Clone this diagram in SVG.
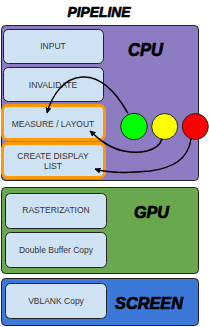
<svg xmlns="http://www.w3.org/2000/svg" width="209" height="327" viewBox="0 0 209 327">
<style>
.panel{stroke:#222;stroke-width:1}
.box{fill:#cfe2f3;stroke:#222;stroke-width:1}
.sel{fill:#cfe2f3;stroke:#ff9900;stroke-width:3}
.lbl{font-family:"Liberation Sans",Arial,sans-serif;font-size:8.5px;fill:#333;text-anchor:middle}
.big{font-family:"Liberation Sans",Arial,sans-serif;font-weight:bold;font-style:italic;fill:#000;stroke:#000;stroke-width:0.7}
.conn{fill:none;stroke:#000;stroke-width:1.5}
</style>
<defs>
<marker id="ah" viewBox="0 0 10 10" refX="9" refY="5" markerWidth="6" markerHeight="6" orient="auto" markerUnits="userSpaceOnUse">
<path d="M0,0 L10,5 L0,10 z" fill="#000"/>
</marker>
</defs>
<text class="big" x="99" y="17" font-size="15" text-anchor="middle" textLength="63" lengthAdjust="spacingAndGlyphs">PIPELINE</text>
<g id="cpu">
<rect class="panel" x="1.5" y="25.5" width="197" height="155" rx="4" fill="#8e7cc3"/>
<text class="big" x="128" y="56" font-size="18" textLength="35" lengthAdjust="spacingAndGlyphs">CPU</text>
</g>
<g id="gpu">
<rect class="panel" x="1.5" y="187.5" width="197" height="86" rx="4" fill="#6aa84f"/>
<text class="big" x="134" y="218" font-size="17" textLength="35" lengthAdjust="spacingAndGlyphs">GPU</text>
</g>
<g id="screen">
<rect class="panel" x="1.5" y="278.5" width="197" height="47" rx="4" fill="#3c78d8"/>
<text class="big" x="115" y="309" font-size="17" textLength="68" lengthAdjust="spacingAndGlyphs">SCREEN</text>
</g>
<g id="input">
<rect class="box" x="3.5" y="29.5" width="100" height="34" rx="5"/>
<text class="lbl" x="53" y="49">INPUT</text>
</g>
<g id="invalidate">
<rect class="box" x="3.5" y="67.5" width="100" height="34" rx="5"/>
<text class="lbl" x="53" y="88">INVALIDATE</text>
</g>
<g id="measure">
<rect class="sel" x="2.5" y="105.5" width="102" height="34" rx="5"/>
<text class="lbl" x="53" y="127">MEASURE / LAYOUT</text>
</g>
<g id="create">
<rect class="sel" x="2.5" y="143.5" width="102" height="34" rx="5"/>
<text class="lbl" x="53" y="159">CREATE DISPLAY</text>
<text class="lbl" x="53" y="169">LIST</text>
</g>
<g id="raster">
<rect class="box" x="5.5" y="193.5" width="101" height="35" rx="5"/>
<text class="lbl" x="56" y="213">RASTERIZATION</text>
</g>
<g id="dbuf">
<rect class="box" x="5.5" y="232.5" width="101" height="35" rx="5"/>
<text class="lbl" x="56" y="253">Double Buffer Copy</text>
</g>
<g id="vblank">
<rect class="box" x="5.5" y="283.5" width="101" height="35" rx="5"/>
<text class="lbl" x="56" y="304">VBLANK Copy</text>
</g>
<g id="green"><circle cx="134" cy="126.5" r="13.3" fill="#00ff00" stroke="#222" stroke-width="1"/></g>
<g id="yellow"><circle cx="164.7" cy="126.5" r="13" fill="#ffff00" stroke="#222" stroke-width="1"/></g>
<g id="red"><circle cx="195.3" cy="126.5" r="13" fill="#ff0000" stroke="#222" stroke-width="1"/></g>
<g id="connectors">
<path class="conn" d="M128,113.5 C115,90 100,76 82,77 C64,78 52,95 47,113" marker-end="url(#ah)"/>
<path class="conn" d="M162,139 C158,152 138,154 124,151 C108,148 98,138 90,131" marker-end="url(#ah)"/>
<path class="conn" d="M191,139 C188,160 172,168 150,171 C130,173 108,173 95,169" marker-end="url(#ah)"/>
</g>
</svg>
